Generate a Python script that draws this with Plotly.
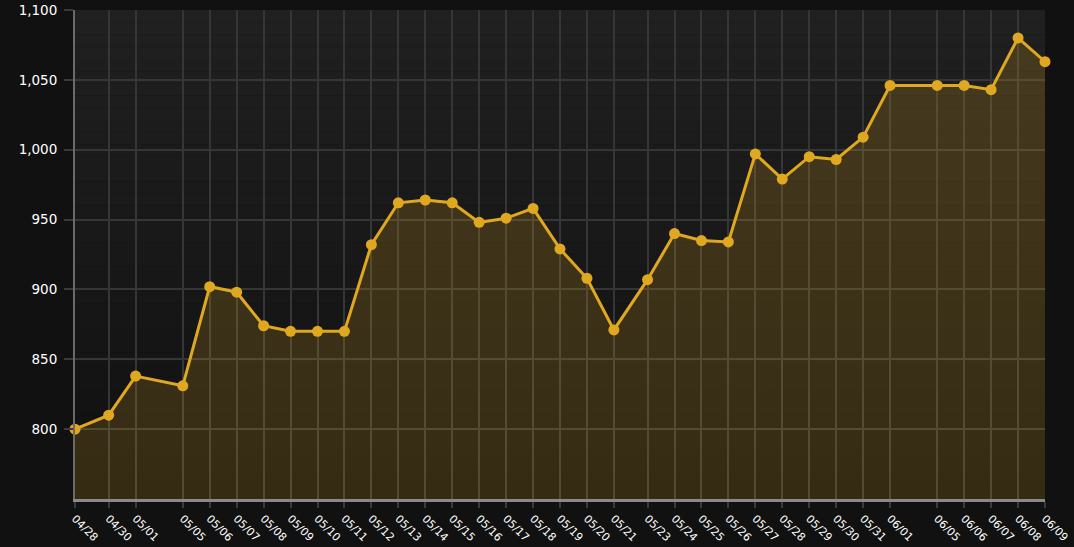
import plotly.graph_objects as go
from datetime import date

# ---- data ----
dates = ["04/28", "04/30", "05/01", "05/05", "05/06", "05/07", "05/08", "05/09",
         "05/10", "05/11", "05/12", "05/13", "05/14", "05/15", "05/16", "05/17",
         "05/18", "05/19", "05/20", "05/21", "05/23", "05/24", "05/25", "05/26",
         "05/27", "05/28", "05/29", "05/30", "05/31", "06/01", "06/05", "06/06",
         "06/07", "06/08", "06/09"]
values = [800, 810, 838, 831, 902, 898, 874, 870, 870, 870, 932, 962, 964, 962,
          948, 951, 958, 929, 908, 871, 907, 940, 935, 934, 997, 979, 995, 993,
          1009, 1046, 1046, 1046, 1043, 1080, 1063]
y_ticks = [800, 850, 900, 950, 1000, 1050, 1100]

# x positions derived from the dates: skipped days are compressed
def to_date(s):
    m, d = s.split("/")
    return date(2024, int(m), int(d))

xs = [0.0]
for a, b in zip(dates[:-1], dates[1:]):
    gap = (to_date(b) - to_date(a)).days
    xs.append(xs[-1] + 1 + 0.25 * (gap - 1))

gold = "#e0a820"

fig = go.Figure()
fig.add_trace(go.Scatter(
    x=xs, y=values, mode="lines+markers",
    line=dict(color=gold, width=3),
    marker=dict(color=gold, size=11),
    fill="tozeroy",
    fillgradient=dict(type="vertical",
                      colorscale=[[0, "rgba(224,168,32,0.13)"],
                                  [1, "rgba(224,168,32,0.2)"]]),
    cliponaxis=False,
    hoverinfo="x+y",
))

# background vertical gradient for the plot area
shapes = []
n = 40
top = (0x20, 0x20, 0x20)
bot = (0x10, 0x10, 0x10)
for i in range(n):
    t = i / (n - 1)
    c = tuple(round(top[k] + (bot[k] - top[k]) * t) for k in range(3))
    shapes.append(dict(type="rect", xref="paper", yref="paper",
                       x0=0, x1=1, y0=1 - (i + 1) / n, y1=1 - i / n,
                       fillcolor="rgb(%d,%d,%d)" % c, line=dict(width=0),
                       layer="below"))

fig.update_layout(
    width=1074, height=547,
    margin=dict(l=75, r=29, t=10, b=48),
    paper_bgcolor="#111111",
    plot_bgcolor="rgba(0,0,0,0)",
    shapes=shapes,
    showlegend=False,
    font=dict(family="DejaVu Sans", color="#ffffff"),
)
fig.update_xaxes(
    range=[0, xs[-1]],
    tickvals=xs, ticktext=dates, tickangle=45,
    tickfont=dict(size=11, color="#ffffff"),
    showgrid=True, gridcolor="#363636", gridwidth=2,
    showline=True, linecolor="#8a8a8a", linewidth=3,
    ticks="outside", ticklen=6, tickwidth=2, tickcolor="#3a3a3a",
    zeroline=False, automargin=False,
)
fig.update_yaxes(
    range=[750, 1100],
    tickvals=y_ticks, tickformat=",",
    tickfont=dict(size=13.5, color="#ffffff"),
    showgrid=True, gridcolor="#363636", gridwidth=2,
    showline=True, linecolor="#6a6a6a", linewidth=2,
    ticks="outside", ticklen=9, tickwidth=2, tickcolor="#3a3a3a",
    ticklabelstandoff=4,
    zeroline=False, automargin=False,
)

fig.write_html("out.html", config={"displayModeBar": False},
               post_script="document.body.style.margin='0';")
